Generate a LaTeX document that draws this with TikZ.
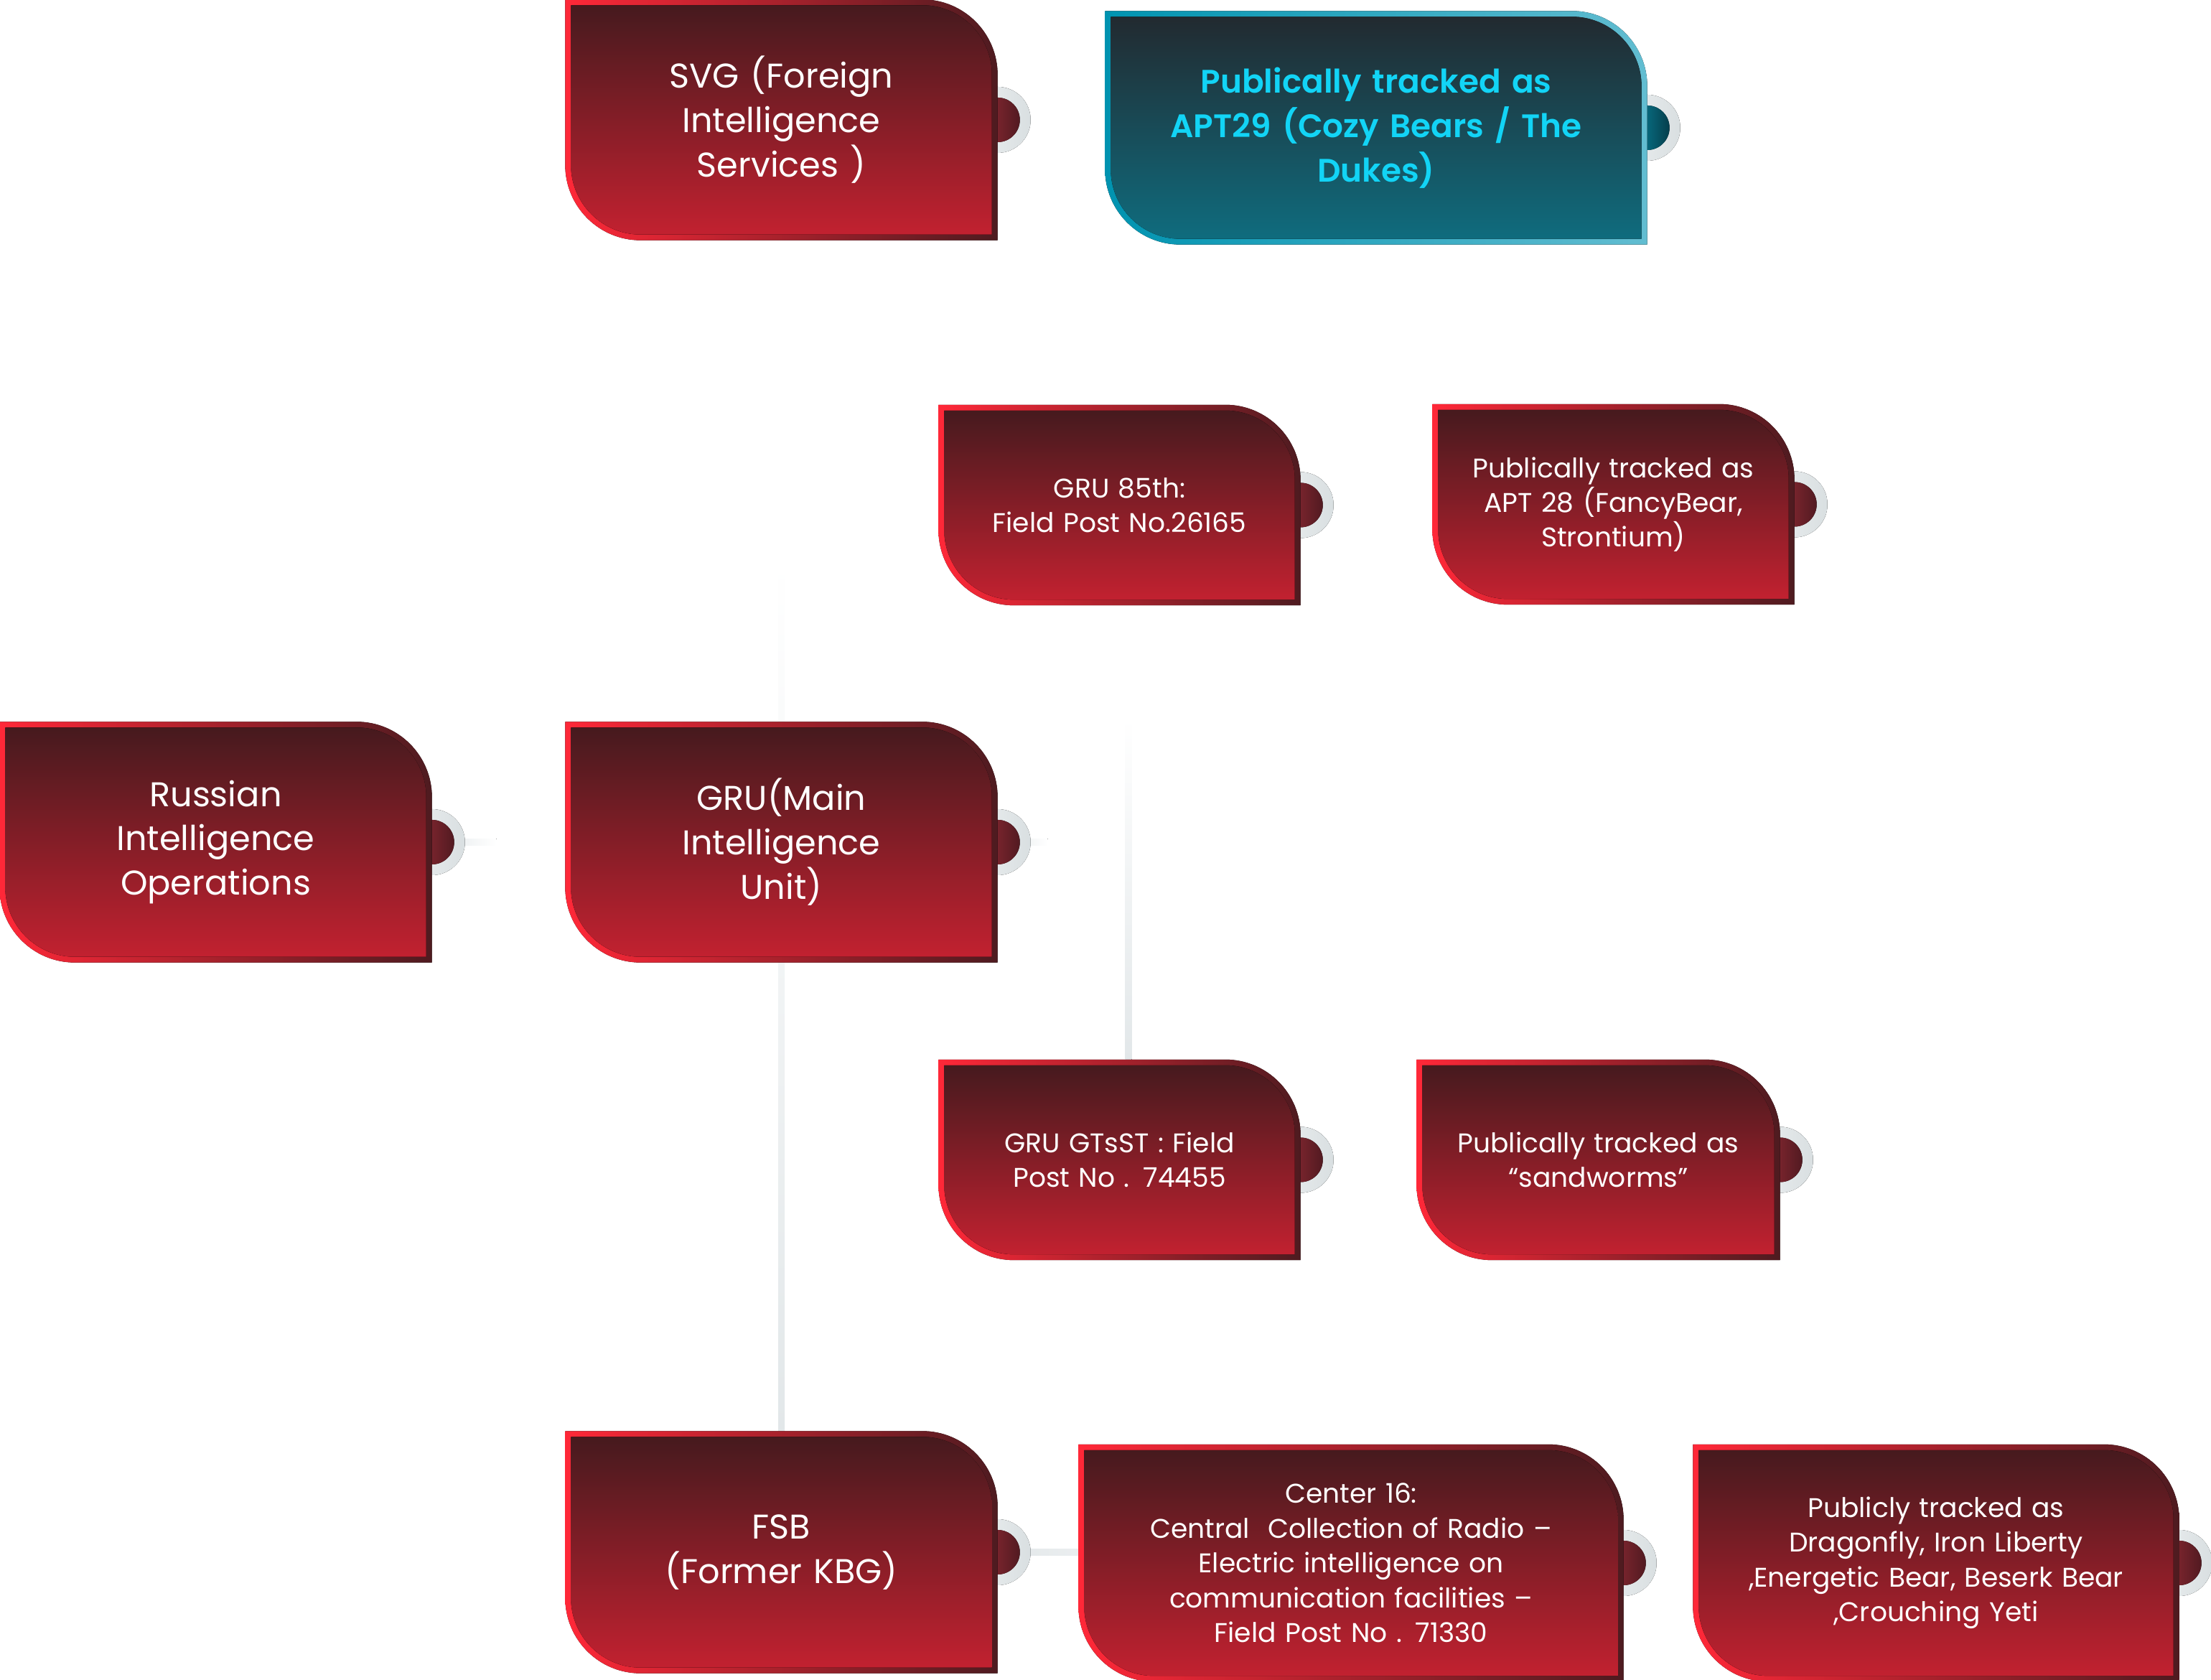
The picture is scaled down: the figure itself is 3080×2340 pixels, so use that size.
\documentclass[tikz,border=0pt]{standalone}
\usepackage{fontspec}
\setmainfont{Poppins}
\newfontfamily\semibold{Poppins SemiBold}
\usepackage{tikz}
\usepackage{xcolor}
\usetikzlibrary{calc,backgrounds}
\definecolor{redhi}{HTML}{FF2838}
\definecolor{reddk}{HTML}{4E1B20}
\definecolor{redtop}{HTML}{461A1E}
\definecolor{redbot}{HTML}{C22130}
\definecolor{tealhi}{HTML}{0093B0}
\definecolor{tealrt}{HTML}{62BDD1}
\definecolor{tealtop}{HTML}{222A30}
\definecolor{tealbot}{HTML}{0F6C7E}
\definecolor{cyantext}{HTML}{12D4F6}
\definecolor{ringlt}{HTML}{EEF1F2}
\definecolor{ringdk}{HTML}{D9DFE1}
\definecolor{linegray}{HTML}{E2E7E9}
\definecolor{dotlt}{HTML}{9A2D37}
\definecolor{dotdk}{HTML}{521A21}
\definecolor{tdotlt}{HTML}{0A8FA8}
\definecolor{tdotdk}{HTML}{053E4C}
\newcommand{\tagr}{10.5mm}
\newcommand{\tagri}{9.7mm}
% rim + body of one tag, behind the text node
\newcommand{\tagshape}[3]{%
  \fill[#2] (#1.north west) -- ($(#1.north east)+(-\tagr,0)$)
    arc[start angle=90,end angle=0,radius=\tagr] -- (#1.south east)
    -- ($(#1.south west)+(\tagr,0)$)
    arc[start angle=270,end angle=180,radius=\tagr] -- cycle;
  \fill[#3] ($(#1.north west)+(0.8mm,-0.8mm)$) -- ($(#1.north east)+(-\tagr,-0.8mm)$)
    arc[start angle=90,end angle=0,radius=\tagri] -- ($(#1.south east)+(-0.8mm,0.8mm)$)
    -- ($(#1.south west)+(\tagr,0.8mm)$)
    arc[start angle=270,end angle=180,radius=\tagri] -- cycle;}
\newcommand{\tabdot}[2]{%
  \fill[left color=ringlt,right color=ringdk] (#1.east) circle[radius=4.6mm];
  \fill[#2] (#1.east) circle[radius=3.1mm];}
\tikzset{
  tag/.style={inner sep=0pt,align=center,text=white},
  bigtag/.style={tag,minimum width=60.1mm,minimum height=33.4mm,text width=52mm,
                 font=\fontsize{13.6}{17.6}\selectfont},
  smalltag/.style={tag,minimum width=50.3mm,minimum height=27.8mm,text width=46mm,
                   font=\fontsize{10.7}{13.6}\selectfont},
  widetag/.style={tag,minimum height=32.9mm,text width=62mm,
                  font=\fontsize{10.7}{13.8}\selectfont},
  redrim/.style={left color=redhi,right color=reddk},
  redbody/.style={top color=redtop,bottom color=redbot},
  tealrim/.style={left color=tealhi,right color=tealrt},
  tealbody/.style={top color=tealtop,bottom color=tealbot},
  reddot/.style={left color=dotlt,right color=dotdk},
  tealdot/.style={left color=tdotlt,right color=tdotdk}
}
\begin{document}
\begin{tikzpicture}[x=0.1mm,y=0.1mm]
  \useasboundingbox (0,0) rectangle (3080,2340);
  \node[bigtag] (svg) at (1088.5,2173) {SVG (Foreign\\Intelligence\\Services )};
  \node[bigtag,minimum width=75.4mm,minimum height=32.4mm,text width=66mm,
        text=cyantext,font=\semibold\fontsize{12.9}{17.6}\selectfont] (apt29) at (1917,2162)
    {Publically tracked as\\APT29 (Cozy Bears / The\\Dukes)};
  \node[smalltag] (gru85) at (1559.5,1636.5) {GRU 85th:\\Field Post No.26165};
  \node[smalltag] (apt28) at (2247.5,1637.5) {Publically tracked as\\APT 28 (FancyBear,\\Strontium)};
  \node[bigtag] (russ) at (300.5,1167) {Russian\\Intelligence\\Operations};
  \node[bigtag] (grum) at (1088.5,1167) {GRU(Main\\Intelligence\\Unit)};
  \node[smalltag] (gtsst) at (1559.5,724.5) {GRU GTsST : Field\\Post No . 74455};
  \node[smalltag,minimum width=50.5mm] (sandw) at (2226.5,724.5) {Publically tracked as\\“sandworms”};
  \node[bigtag,minimum height=33.6mm] (fsb) at (1088.5,178) {FSB\\(Former KBG)};
  \node[widetag,minimum width=75.8mm] (c16) at (1882,163)
    {Center 16:\\Central\ \ Collection of Radio –\\Electric intelligence on\\communication facilities –\\Field Post No . 71330};
  \node[widetag,minimum width=67.6mm] (drag) at (2697,163)
    {Publicly tracked as\\Dragonfly, Iron Liberty\\,Energetic Bear, Beserk Bear\\,Crouching Yeti};

  \coordinate (grutop) at (1088.5,1560);
  \coordinate (gtstop) at (1572,1340);
  \coordinate (russfade) at ($(russ.east)+(9mm,0)$);
  \coordinate (grufade) at ($(grum.east)+(7mm,0)$);

  \begin{pgfonlayer}{background}
    % faint connectors
    \fill[top color=white,bottom color=linegray] ($(grutop)+(-0.45mm,0)$) rectangle ($(fsb.north)+(0.45mm,0)$);
    \fill[top color=white,bottom color=linegray] ($(gtstop)+(-0.45mm,0)$) rectangle ($(gtsst.north -| gtstop)+(0.45mm,0)$);
    \fill[left color=linegray,right color=white] ($(russ.east)+(0,-0.45mm)$) rectangle ($(russfade)+(0,0.45mm)$);
    \fill[left color=linegray,right color=white] ($(grum.east)+(0,-0.45mm)$) rectangle ($(grufade)+(0,0.45mm)$);
    \fill[left color=linegray,right color=linegray!70] ($(fsb.east)+(0,-0.45mm)$) rectangle ($(c16.west |- fsb.east)+(0,0.45mm)$);
    % tabs
    \foreach \n in {svg,gru85,apt28,russ,grum,gtsst,sandw,fsb,c16,drag}
      {\tabdot{\n}{reddot}}
    \tabdot{apt29}{tealdot}
    % tags
    \foreach \n in {svg,gru85,apt28,russ,grum,gtsst,sandw,fsb,c16,drag}
      {\tagshape{\n}{redrim}{redbody}}
    \tagshape{apt29}{tealrim}{tealbody}
  \end{pgfonlayer}
\end{tikzpicture}
\end{document}
